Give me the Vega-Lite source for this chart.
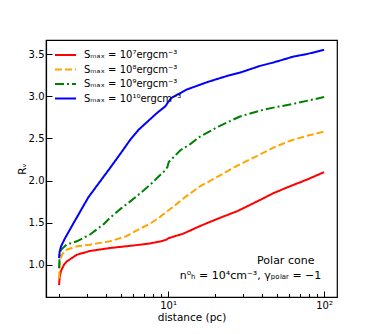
{
  "$schema": "https://vega.github.io/schema/vega-lite/v6.json",
  "width": 291,
  "height": 257,
  "autosize": {"type": "none"},
  "padding": {"left": 46, "top": 40, "right": 37, "bottom": 37},
  "config": {
    "font": "DejaVu Sans",
    "view": {"stroke": "#000", "strokeWidth": 1.2},
    "axis": {
      "grid": false,
      "domainColor": "#000",
      "domainWidth": 1.2,
      "tickColor": "#000",
      "tickWidth": 1,
      "labelColor": "#000",
      "labelFont": "DejaVu Sans",
      "labelFontSize": 10,
      "titleFont": "DejaVu Sans",
      "titleFontSize": 10.5,
      "titleFontWeight": "normal",
      "titleColor": "#000"
    },
    "legend": {
      "orient": "none",
      "legendX": 11,
      "legendY": 6.5,
      "padding": 0,
      "symbolType": "M-1.4,0L1.4,0",
      "symbolSize": 225,
      "symbolStrokeWidth": 2,
      "labelFont": "DejaVu Sans",
      "labelFontSize": 10,
      "labelColor": "#000",
      "labelOffset": 10,
      "rowPadding": 0.5
    }
  },
  "datasets": {
    "curves": [
      {"s": "S7", "x": 2.0, "y": 0.76},
      {"s": "S7", "x": 2.02, "y": 0.86},
      {"s": "S7", "x": 2.06, "y": 0.93},
      {"s": "S7", "x": 2.15, "y": 1.0},
      {"s": "S7", "x": 2.24, "y": 1.04},
      {"s": "S7", "x": 2.6, "y": 1.12},
      {"s": "S7", "x": 3.16, "y": 1.165},
      {"s": "S7", "x": 4.25, "y": 1.2},
      {"s": "S7", "x": 6.0, "y": 1.23},
      {"s": "S7", "x": 7.7, "y": 1.255},
      {"s": "S7", "x": 9.0, "y": 1.28},
      {"s": "S7", "x": 9.8, "y": 1.3},
      {"s": "S7", "x": 10.0, "y": 1.315},
      {"s": "S7", "x": 12.5, "y": 1.37},
      {"s": "S7", "x": 16, "y": 1.46},
      {"s": "S7", "x": 21, "y": 1.55},
      {"s": "S7", "x": 28, "y": 1.64},
      {"s": "S7", "x": 38.9, "y": 1.77},
      {"s": "S7", "x": 47.3, "y": 1.85},
      {"s": "S7", "x": 60, "y": 1.93},
      {"s": "S7", "x": 77.4, "y": 2.01},
      {"s": "S7", "x": 100, "y": 2.1},
      {"s": "S8", "x": 2.0, "y": 0.84},
      {"s": "S8", "x": 2.03, "y": 1.05},
      {"s": "S8", "x": 2.1, "y": 1.13},
      {"s": "S8", "x": 2.24, "y": 1.18},
      {"s": "S8", "x": 2.6, "y": 1.22},
      {"s": "S8", "x": 3.16, "y": 1.24},
      {"s": "S8", "x": 4.25, "y": 1.28},
      {"s": "S8", "x": 5.4, "y": 1.34},
      {"s": "S8", "x": 6.3, "y": 1.41},
      {"s": "S8", "x": 7.7, "y": 1.49},
      {"s": "S8", "x": 8.9, "y": 1.57},
      {"s": "S8", "x": 9.8, "y": 1.63},
      {"s": "S8", "x": 10.8, "y": 1.69},
      {"s": "S8", "x": 13, "y": 1.81},
      {"s": "S8", "x": 16, "y": 1.93},
      {"s": "S8", "x": 21, "y": 2.05},
      {"s": "S8", "x": 28, "y": 2.18},
      {"s": "S8", "x": 38.9, "y": 2.31},
      {"s": "S8", "x": 47.3, "y": 2.39},
      {"s": "S8", "x": 60, "y": 2.47},
      {"s": "S8", "x": 77.4, "y": 2.53},
      {"s": "S8", "x": 100, "y": 2.58},
      {"s": "S9", "x": 2.0, "y": 0.96},
      {"s": "S9", "x": 2.02, "y": 1.12},
      {"s": "S9", "x": 2.06, "y": 1.18},
      {"s": "S9", "x": 2.24, "y": 1.24},
      {"s": "S9", "x": 2.6, "y": 1.28},
      {"s": "S9", "x": 3.16, "y": 1.36},
      {"s": "S9", "x": 3.85, "y": 1.48},
      {"s": "S9", "x": 4.25, "y": 1.56},
      {"s": "S9", "x": 5.0, "y": 1.67},
      {"s": "S9", "x": 5.7, "y": 1.75},
      {"s": "S9", "x": 6.45, "y": 1.83},
      {"s": "S9", "x": 7.67, "y": 1.95},
      {"s": "S9", "x": 8.6, "y": 2.04},
      {"s": "S9", "x": 9.57, "y": 2.12},
      {"s": "S9", "x": 9.9, "y": 2.16},
      {"s": "S9", "x": 10.1, "y": 2.22},
      {"s": "S9", "x": 12, "y": 2.36},
      {"s": "S9", "x": 13.8, "y": 2.43},
      {"s": "S9", "x": 16, "y": 2.52},
      {"s": "S9", "x": 21, "y": 2.64},
      {"s": "S9", "x": 28.9, "y": 2.76},
      {"s": "S9", "x": 38.9, "y": 2.83},
      {"s": "S9", "x": 47.3, "y": 2.865},
      {"s": "S9", "x": 63.5, "y": 2.91},
      {"s": "S9", "x": 77.4, "y": 2.945},
      {"s": "S9", "x": 100, "y": 2.99},
      {"s": "S10", "x": 2.0, "y": 1.08},
      {"s": "S10", "x": 2.02, "y": 1.16},
      {"s": "S10", "x": 2.06, "y": 1.22},
      {"s": "S10", "x": 2.19, "y": 1.32},
      {"s": "S10", "x": 2.54, "y": 1.53},
      {"s": "S10", "x": 3.08, "y": 1.8},
      {"s": "S10", "x": 3.6, "y": 1.97},
      {"s": "S10", "x": 4.25, "y": 2.15},
      {"s": "S10", "x": 5.0, "y": 2.33},
      {"s": "S10", "x": 5.7, "y": 2.48},
      {"s": "S10", "x": 6.45, "y": 2.6},
      {"s": "S10", "x": 7.7, "y": 2.73},
      {"s": "S10", "x": 8.6, "y": 2.81},
      {"s": "S10", "x": 9.6, "y": 2.88},
      {"s": "S10", "x": 10.0, "y": 2.93},
      {"s": "S10", "x": 10.5, "y": 2.98},
      {"s": "S10", "x": 13.2, "y": 3.08},
      {"s": "S10", "x": 18, "y": 3.17},
      {"s": "S10", "x": 23.8, "y": 3.24},
      {"s": "S10", "x": 28.9, "y": 3.28},
      {"s": "S10", "x": 38.9, "y": 3.36},
      {"s": "S10", "x": 47.3, "y": 3.4},
      {"s": "S10", "x": 63.5, "y": 3.47},
      {"s": "S10", "x": 77.4, "y": 3.5},
      {"s": "S10", "x": 100, "y": 3.55}
    ],
    "notes": [
      {"x": 86.7, "y": 1.048, "t": "Polar cone"},
      {"x": 96, "y": 0.865, "t": "n⁰ₕ = 10⁴cm⁻³, γₚₒₗₐᵣ = −1"}
    ]
  },
  "resolve": {"axis": {"x": "independent"}},
  "layer": [
    {
      "data": {"name": "curves"},
      "mark": {"type": "line", "strokeWidth": 2},
      "encoding": {
        "x": {
          "field": "x",
          "type": "quantitative",
          "scale": {"type": "log", "domain": [1.65, 121], "nice": false, "zero": false},
          "axis": {
            "orient": "bottom",
            "values": [10, 100],
            "labelExpr": "datum.value == 10 ? '10¹' : '10²'",
            "tickSize": -6,
            "labelPadding": 9,
            "title": "distance (pc)",
            "titlePadding": 2
          }
        },
        "y": {
          "field": "y",
          "type": "quantitative",
          "scale": {"domain": [0.619, 3.667], "nice": false, "zero": false},
          "axis": {
            "values": [1, 1.5, 2, 2.5, 3, 3.5],
            "format": ".1f",
            "tickSize": -6,
            "labelPadding": 8,
            "title": "Rᵥ",
            "titlePadding": 1
          }
        },
        "color": {
          "field": "s",
          "type": "nominal",
          "scale": {"domain": ["S7", "S8", "S9", "S10"], "range": ["#ff0000", "#ffa500", "#008000", "#0000ff"]},
          "legend": {
            "title": null,
            "labelExpr": "datum.value == 'S7' ? 'Sₘₐₓ = 10⁷ergcm⁻³' : datum.value == 'S8' ? 'Sₘₐₓ = 10⁸ergcm⁻³' : datum.value == 'S9' ? 'Sₘₐₓ = 10⁹ergcm⁻³' : 'Sₘₐₓ = 10¹⁰ergcm⁻³'"
          }
        },
        "strokeDash": {
          "field": "s",
          "type": "nominal",
          "scale": {"domain": ["S7", "S8", "S9", "S10"], "range": [[1, 0], [7, 3], [9, 3, 2, 3], [1, 0]]},
          "legend": {
            "title": null,
            "labelExpr": "datum.value == 'S7' ? 'Sₘₐₓ = 10⁷ergcm⁻³' : datum.value == 'S8' ? 'Sₘₐₓ = 10⁸ergcm⁻³' : datum.value == 'S9' ? 'Sₘₐₓ = 10⁹ergcm⁻³' : 'Sₘₐₓ = 10¹⁰ergcm⁻³'"
          }
        }
      }
    },
    {
      "data": {"name": "notes"},
      "mark": {"type": "text", "align": "right", "baseline": "middle", "fontSize": 11, "font": "DejaVu Sans", "color": "#000"},
      "encoding": {
        "x": {
          "field": "x",
          "type": "quantitative",
          "scale": {"type": "log", "domain": [1.65, 121], "nice": false, "zero": false},
          "axis": {
            "orient": "bottom",
            "values": [2, 3, 4, 5, 6, 7, 8, 9, 20, 30, 40, 50, 60, 70, 80, 90],
            "labels": false,
            "domain": false,
            "tickSize": -3.5,
            "title": null
          }
        },
        "y": {"field": "y", "type": "quantitative"},
        "text": {"field": "t"}
      }
    }
  ]
}
